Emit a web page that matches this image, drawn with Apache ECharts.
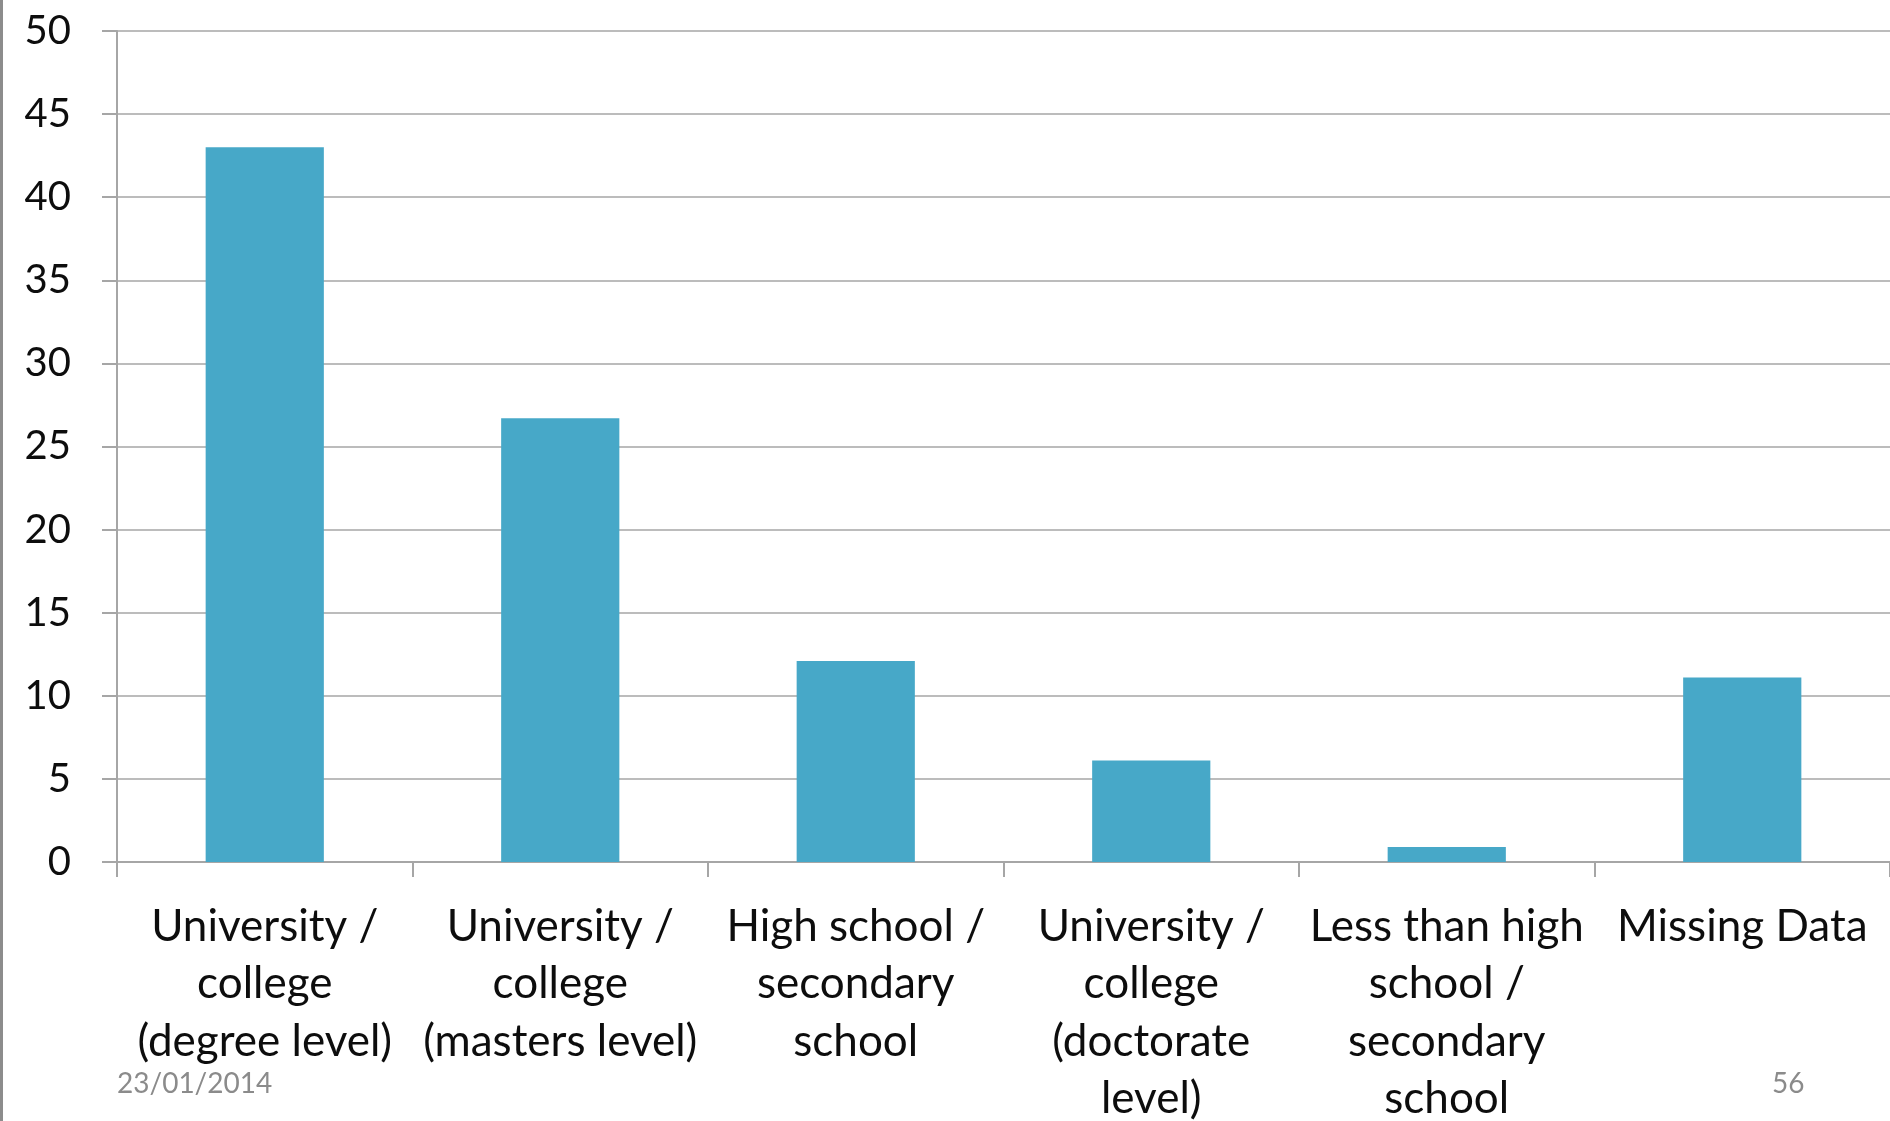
<!DOCTYPE html>
<html lang="en">

<head>
    <meta charset="UTF-8">
    <title>Education level</title>
    <script src="https://cdn.jsdelivr.net/npm/echarts@6/dist/echarts.min.js"></script>
    <style>
        html, body { margin: 0; padding: 0; background: #fff; }
        #chart { width: 1890px; height: 1121px; }
    </style>
</head>

<body>
    <div id="chart"></div>
</body>

</html>
<script>
    // categories (x axis), line breaks as on the slide
    let categories = [
        'University /\ncollege\n(degree level)',
        'University /\ncollege\n(masters level)',
        'High school /\nsecondary\nschool',
        'University /\ncollege\n(doctorate\nlevel)',
        'Less than high\nschool /\nsecondary\nschool',
        'Missing Data'
    ];
    // bar values
    let values = [43, 26.7, 12.1, 6.1, 0.9, 11.1];
    // footer texts
    let footerDate = '23/01/2014';
    let footerPage = '56';

    (function () {
        let myChart = echarts.init(document.getElementById('chart'));
        let option = {
            animation: false,
            grid: {
                left: 117,
                right: 0,
                top: 31,
                bottom: 259,
                containLabel: false,
                outerBoundsMode: 'none'
            },
            xAxis: {
                type: 'category',
                data: categories,
                axisLine: { lineStyle: { color: '#a6a6a6', width: 2 } },
                axisTick: {
                    show: true,
                    length: 15,
                    lineStyle: { color: '#a6a6a6', width: 2 }
                },
                axisLabel: {
                    interval: 0,
                    margin: 36,
                    color: '#0d0d0d',
                    fontFamily: 'Lato',
                    fontSize: 44,
                    lineHeight: 57.5,
                    align: 'center'
                }
            },
            yAxis: {
                type: 'value',
                min: 0,
                max: 50,
                interval: 5,
                axisLine: { show: true, lineStyle: { color: '#a6a6a6', width: 2 } },
                axisTick: {
                    show: true,
                    length: 15,
                    lineStyle: { color: '#a6a6a6', width: 2 }
                },
                splitLine: { lineStyle: { color: '#bcbcbc', width: 2 } },
                axisLabel: {
                    margin: 46,
                    color: '#0d0d0d',
                    fontFamily: 'Lato',
                    fontSize: 40
                }
            },
            series: [
                {
                    type: 'bar',
                    data: values,
                    barWidth: '40%',
                    itemStyle: { color: '#47a8c8' }
                }
            ],
            graphic: [
                {
                    // left slide edge
                    type: 'rect',
                    left: 0,
                    top: 0,
                    shape: { width: 3, height: 1121 },
                    style: { fill: '#8c8c8c' }
                },
                {
                    type: 'text',
                    left: 117,
                    top: 1070,
                    style: {
                        text: footerDate,
                        fill: '#8b8b8b',
                        font: '28px Lato'
                    }
                },
                {
                    type: 'text',
                    left: 1772,
                    top: 1070,
                    style: {
                        text: footerPage,
                        fill: '#8b8b8b',
                        font: '28px Lato'
                    }
                }
            ]
        };
        myChart.setOption(option);
    })()
</script>
